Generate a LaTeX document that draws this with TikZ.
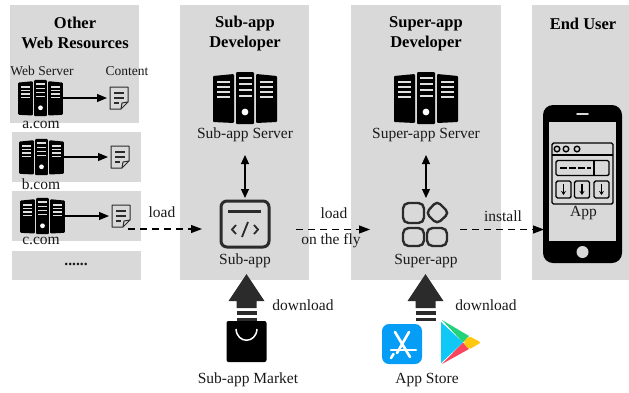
\documentclass[tikz,border=0pt]{standalone}
\usepackage{fontspec}
\setmainfont{Liberation Serif}
\usetikzlibrary{arrows.meta}
\definecolor{panel}{HTML}{D9D9D9}
\definecolor{ink}{HTML}{2B2B2B}
\tikzset{
  x=1pt,y=-1pt,
  panelbox/.style={fill=panel,draw=none},
  lbl/.style={font=\fontsize{15.5}{17}\selectfont,inner sep=0pt,text=black!90},
  small/.style={font=\fontsize{13.5}{15}\selectfont,inner sep=0pt,text=black!90},
  head/.style={font=\fontsize{16.5}{20}\selectfont\bfseries,inner sep=0pt,align=center},
  solidarrow/.style={-{Triangle[length=10pt,width=8pt]},line width=1.1pt},
  both/.style={{Triangle[length=9pt,width=8pt]}-{Triangle[length=9pt,width=8pt]},line width=1.1pt},
  dasharrow/.style={-{Triangle[length=11pt,width=8pt]},line width=1.1pt,dash pattern=on 7pt off 5pt},
  server/.pic={
    \fill[black,rounded corners=1pt] (-32,-22) -- (-11,-24) -- (-11,25) -- (-32,24) -- cycle;
    \fill[black,rounded corners=1pt] (32,-22) -- (11,-24) -- (11,25) -- (32,24) -- cycle;
    \fill[black,rounded corners=1pt] (-9,-26) rectangle (9,26);
    \foreach \yy in {-16,-11,-6,-1}{
      \fill[white!88!black] (-28,\yy-1) rectangle (-15,\yy+1);
      \fill[white!88!black] (15,\yy-1) rectangle (28,\yy+1);
    }
    \foreach \yy in {-20,-14,-8,-2}{
      \fill[white!88!black] (-6.5,\yy-1) rectangle (6.5,\yy+1);
    }
    \fill[white] (0,14) circle (3.4);
  },
  docicon/.pic={
    \draw[ink,line width=1pt,line join=round] (-9,-11) -- (9,-11) -- (9,4) -- (2,11) -- (-9,11) -- cycle;
    \draw[ink,line width=1pt,line join=round] (9,4) -- (3,5) -- (2,11);
    \draw[ink,line width=1.1pt] (-5,-5) -- (5,-5) (-5,0) -- (5,0) (-5,5) -- (0,5);
  },
  blockarrow/.pic={
    \fill[ink] (-18,0) -- (0,-27) -- (18,0) -- (10,0) -- (10,7) -- (-10,7) -- (-10,0) -- cycle;
    \fill[ink] (-10,10) rectangle (10,14);
    \fill[ink] (-10,17) rectangle (10,20);
  }
}
\begin{document}
\begin{tikzpicture}
\useasboundingbox (0,0) rectangle (629,392);
% panels
\fill[panelbox] (10,5) rectangle (139,123);
\fill[panelbox] (12,132) rectangle (141,182);
\fill[panelbox] (12,191) rectangle (141,241);
\fill[panelbox] (12,251) rectangle (141,280);
\fill[panelbox] (180,5) rectangle (309,280);
\fill[panelbox] (351,5) rectangle (501,280);
\fill[panelbox] (532,5) rectangle (629,280);
% headings
\node[head] (hother) at (75,33) {Other\\Web Resources};
\node[head] (hsub) at (245,34) {Sub-app\\Developer};
\node[head] (hsuper) at (426,34) {Super-app\\Developer};
\node[head] (hend) at (583,24) {End User};
% left column
\node[small] (lws) at (42,71) {Web Server};
\node[small] (lct) at (127,71) {Content};
\coordinate (s1) at (40.5,98);
\coordinate (s2) at (41.5,157);
\coordinate (s3) at (42.5,216);
\pic[scale=.7,transform shape] at (s1) {server};
\pic[scale=.7,transform shape] at (s2) {server};
\pic[scale=.7,transform shape] at (s3) {server};
\coordinate (d1) at (119,98);
\coordinate (d2) at (120,157);
\coordinate (d3) at (121,216);
\pic at (d1) {docicon};
\pic at (d2) {docicon};
\pic at (d3) {docicon};
\draw[solidarrow] (s1)++(22,0) -- ([xshift=-12pt]d1);
\draw[solidarrow] (s2)++(22,0) -- ([xshift=-12pt]d2);
\draw[solidarrow] (s3)++(22,0) -- ([xshift=-12pt]d3);
\node[lbl] (la) at (41,125) {a.com};
\node[lbl] (lb) at (41,184) {b.com};
\node[lbl] (lc) at (41,241) {c.com};
\node[lbl,font=\fontsize{15.5}{17}\selectfont\bfseries] (ldots) at (76,264) {......};
% sub-app
\coordinate (ss) at (245,98);
\pic at (ss) {server};
\node[lbl] (lss) at (245,135) {Sub-app Server};
\node[minimum size=50pt,inner sep=0pt] (subapp) at (245,224) {};
\draw[ink,line width=3pt,rounded corners=6pt] (221,201) rectangle (269,247);
\draw[ink,line width=2.4pt] (228,211.5) -- (261,211.5);
\draw[ink,line width=1.8pt] (236,225) -- (232,229.5) -- (236,234) (254,225) -- (258,229.5) -- (254,234) (248,222) -- (242,237);
\node[lbl] (lsa) at (245,261) {Sub-app};
\draw[both] (245,155) -- (245,198);
% super-app
\coordinate (sp) at (426,98);
\pic at (sp) {server};
\node[lbl] (lsp) at (426,135) {Super-app Server};
\coordinate (spa) at (426,224);
\begin{scope}[ink,line width=2.4pt]
\draw[rounded corners=5.5pt] (403,203) rectangle (424,223);
\draw[rounded corners=5.5pt] (403,228) rectangle (424,246);
\draw[rounded corners=5.5pt] (427,228) rectangle (447,246);
\draw[rounded corners=4.5pt] (437,201) -- (449,213) -- (437,224) -- (426,213) -- cycle;
\end{scope}
\node[lbl] (lspa) at (426,261) {Super-app};
\draw[both] (426,155) -- (426,198);
% phone
\coordinate (ph) at (582.5,184);
\fill[black,rounded corners=10pt] (543,105) rectangle (622,263);
\fill[panel] (549,122) rectangle (616,241);
\draw[panel,line width=1.6pt,line cap=round] (577,114) -- (588,114);
\fill[panel] (582.5,252) circle (6);
\begin{scope}[black,line width=1.4pt]
\draw[rounded corners=1.5pt] (552,143) rectangle (613,204);
\draw (552,155) -- (613,155);
\draw (557,149) circle (2.8) (566,149) circle (2.8) (577,149) circle (2.8);
\draw[rounded corners=1.5pt] (556,160.5) rectangle (609,175.5);
\draw (594,160.5) -- (594,175.5);
\draw[dash pattern=on 6.5pt off 2.5pt,line width=1.3pt] (560,168) -- (591,168);
\foreach \bx in {556,574.5,594}{
  \draw[rounded corners=1.5pt] (\bx,181) rectangle (\bx+15,198);
  \draw[-{Stealth[length=4pt,width=5pt]}] (\bx+7.5,184) -- (\bx+7.5,195);
}
\end{scope}
\node[lbl] (lapp) at (583.5,213) {App};
% dashed
\draw[dasharrow] (128,229) -- (202,229);
\node[lbl] (lload1) at (162,212) {load};
\draw[dasharrow] (296,229.5) -- (370,229.5);
\node[lbl] (lload2) at (334,213) {load};
\node[lbl] (lfly) at (331,241) {on the fly};
\draw[dasharrow] (460,229.5) -- (544,229.5);
\node[lbl] (linst) at (503,216) {install};
% bottom
\pic at (246.5,301) {blockarrow};
\pic at (425.5,301) {blockarrow};
\fill[black,rounded corners=2pt] (226.5,321) rectangle (266.5,362);
\draw[white,line width=1.5pt] (236,329) .. controls (237,344) and (256,344) .. (257,329);
\node[lbl] (lmarket) at (248,380) {Sub-app Market};
\node[lbl] (ldl1) at (303,305) {download};
\node[lbl] (ldl2) at (486,305) {download};
\node[lbl] (lstore) at (427,380) {App Store};
% App Store icon
\definecolor{asblue}{HTML}{069DF7}
\fill[asblue,rounded corners=7pt] (382,324) rectangle (422,364);
\begin{scope}[white,line width=2.6pt,line cap=round]
\draw (395,332) -- (410,357);
\draw (409,332) -- (397,353);
\draw (391,350) -- (416,350);
\draw (393.5,354) -- (391,358);
\end{scope}
% Play icon
\definecolor{pgreen}{HTML}{22D37B}
\definecolor{pblue}{HTML}{10C8F5}
\definecolor{pred}{HTML}{F9465C}
\definecolor{pyellow}{HTML}{FFC80F}
\fill[pblue] (441,322) -- (463,342.5) -- (441,363) -- cycle;
\fill[pgreen] (442,320) -- (469,336) -- (463,342.5) -- cycle;
\fill[pred] (442,364) -- (469,349) -- (463,342.5) -- cycle;
\fill[pyellow,rounded corners=2pt] (469,336) -- (481,342.5) -- (469,349.5) -- (463,342.5) -- cycle;
\end{tikzpicture}
\end{document}
